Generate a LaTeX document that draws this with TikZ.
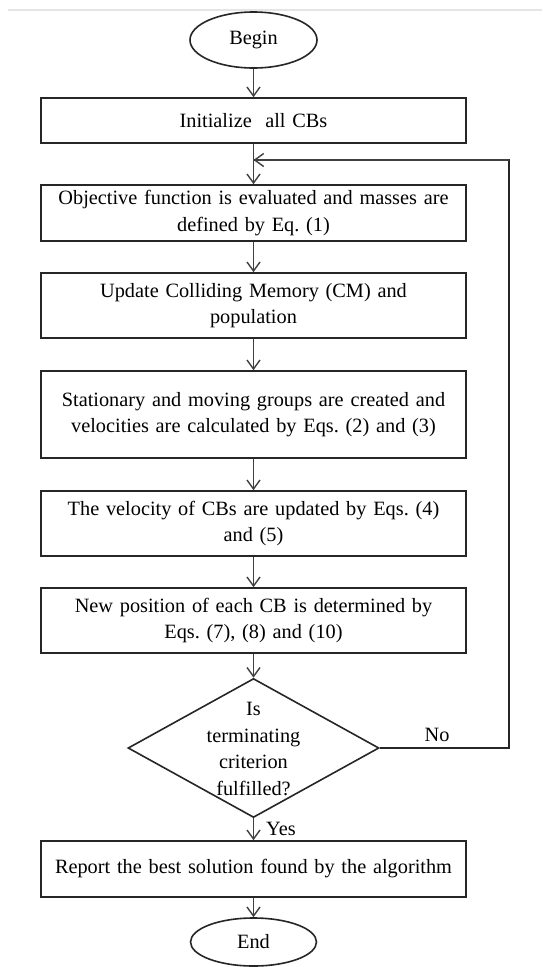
\documentclass[tikz,border=0pt]{standalone}
\usepackage{fontspec}
\setmainfont{Liberation Serif}
\usetikzlibrary{shapes.geometric,arrows.meta}
\frenchspacing
\begin{document}
\begin{tikzpicture}[x=1pt,y=-1pt,
  every node/.style={font=\fontsize{20.3}{26.5}\selectfont, text=black},
  procbox/.style={draw=black!85, line width=1.6pt, rectangle, minimum width=425pt, text width=421pt, align=center, inner sep=0pt},
  term/.style={draw=black!85, line width=1.6pt, ellipse, inner sep=0pt},
  decide/.style={draw=black!85, line width=1.6pt, diamond, inner sep=0pt, minimum width=251pt, minimum height=139pt, align=center},
  flow/.style={draw=black!75, line width=1.6pt, -{Straight Barb[length=9pt,width=13pt,line width=1.4pt]}},
  loopline/.style={draw=black!85, line width=1.6pt}
]
\useasboundingbox (0,0) rectangle (542,967);
\fill[white] (0,0) rectangle (542,967);
\draw[black!10, line width=2pt] (8,10) -- (542,10);

\node[term, minimum width=127pt, minimum height=56pt] (begin) at (253.5,40) {Begin};
\node[procbox, minimum height=45pt] (b1) at (253.5,120.5) {Initialize\ \ all CBs};
\node[procbox, minimum height=56pt] (b2) at (253.5,213) {Objective function is evaluated and masses are\\ defined by Eq. (1)};
\node[procbox, minimum height=65pt] (b3) at (253.5,305.5) {Update Colliding Memory (CM) and\\ population};
\node[procbox, minimum height=87pt] (b4) at (253.5,414.5) {Stationary and moving groups are created and\\ velocities are calculated by Eqs. (2) and (3)};
\node[procbox, minimum height=65pt] (b5) at (253.5,523.5) {The velocity of CBs are updated by Eqs. (4)\\ and (5)};
\node[procbox, minimum height=65pt] (b6) at (253.5,620.5) {New position of each CB is determined by\\ Eqs. (7), (8) and (10)};
\node[decide] (d) at (253.5,748) {};
\node[align=center, inner sep=0pt] (dt) at (253.5,749) {Is\\ terminating\\ criterion\\ fulfilled?};
\node[procbox, minimum height=56pt] (b7) at (253.5,869) {Report the best solution found by the algorithm};
\node[term, minimum width=126pt, minimum height=48pt] (end) at (253.5,942) {End};

\coordinate (j) at (253.5,160);
\coordinate (r1) at (509,748);
\coordinate (r2) at (509,160);

\draw[flow] (begin) -- (b1);
\draw[flow] (b1) -- (b2);
\draw[flow] (b2) -- (b3);
\draw[flow] (b3) -- (b4);
\draw[flow] (b4) -- (b5);
\draw[flow] (b5) -- (b6);
\draw[flow] (b6) -- (d.north);
\draw[flow] (d.south) -- (b7);
\draw[flow] (b7) -- (end);
\draw[loopline] (d.east) -- (r1) -- (r2) -- (j);
\draw[flow] (r2) -- (j);

\node[inner sep=0pt] (no) at (437,735) {No};
\node[inner sep=0pt, anchor=west] (yes) at (266,829) {Yes};
\end{tikzpicture}
\end{document}
